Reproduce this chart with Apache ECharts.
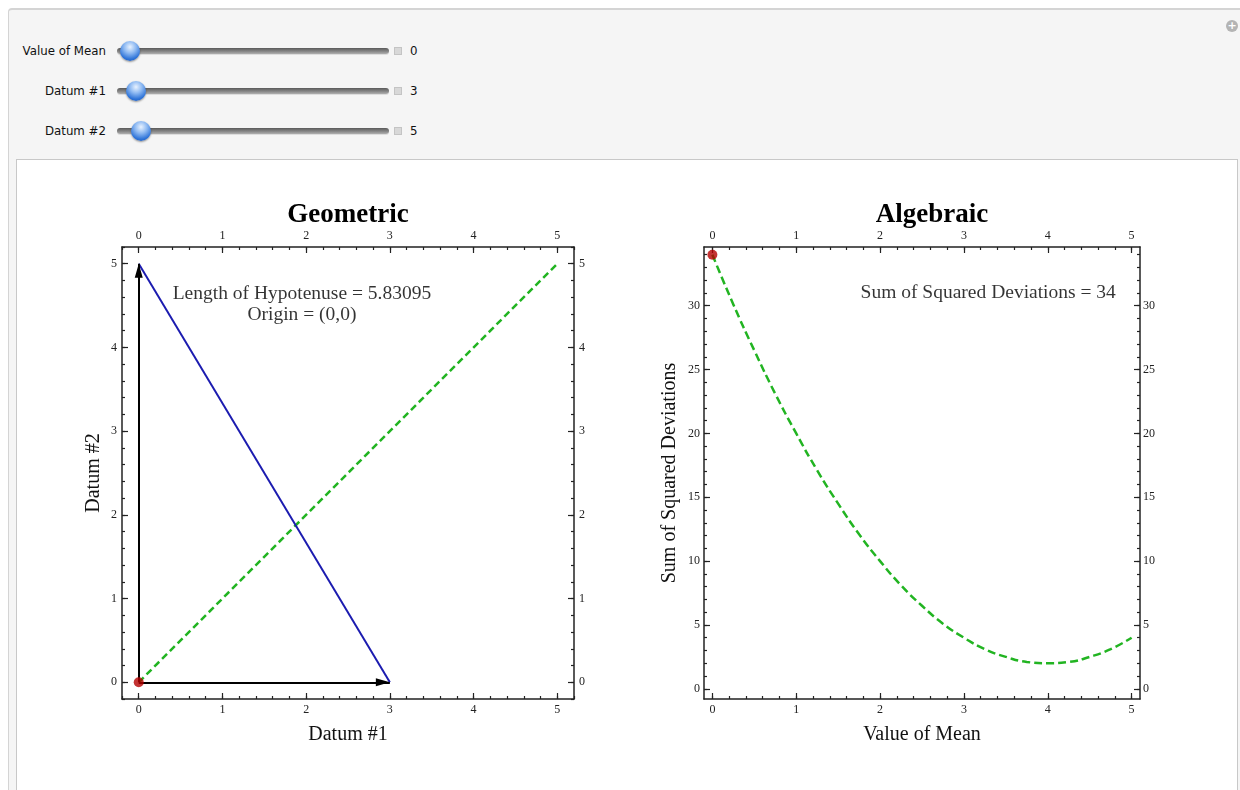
<!DOCTYPE html>
<html>
<head>
<meta charset="utf-8">
<script src="https://cdn.jsdelivr.net/npm/echarts@6/dist/echarts.min.js"></script>
<style>
html,body{margin:0;padding:0;width:1240px;height:790px;background:#fff;overflow:hidden;font-family:"DejaVu Sans",sans-serif;}
#outer{position:absolute;left:8px;top:8px;width:1240px;height:800px;background:#f5f5f5;border-top:2px solid #d4d4d4;border-left:1px solid #d4d4d4;border-top-left-radius:4px;box-sizing:border-box;}
#inner{position:absolute;left:16px;top:159px;width:1222px;height:640px;background:#fff;border:1px solid #c8c8c8;box-sizing:border-box;}
.row{position:absolute;left:0;height:20px;}
.lbl{position:absolute;width:106px;left:0;text-align:right;font-size:11.8px;color:#111;line-height:20px;}
.track{position:absolute;left:117px;top:7px;width:272px;height:6px;border-radius:3px;background:linear-gradient(#5a5a5a,#8a8a8a 60%,#b0b0b0);box-shadow:0 1px 0 #ddd;}
.knob{position:absolute;top:0px;width:20px;height:20px;border-radius:50%;background:radial-gradient(circle at 50% 30%,#e8f2ff 0%,#8fbaf2 35%,#2f74d8 70%,#1b4fa8 100%);box-shadow:0 1px 2px rgba(0,0,0,0.4);}
.plus{position:absolute;left:394px;top:6px;width:8px;height:8px;background:#d8d8d8;border:1px solid #c4c4c4;box-sizing:border-box;}
.val{position:absolute;left:410px;font-size:11.8px;line-height:20px;color:#111;}
#icon{position:absolute;left:1226px;top:20px;width:12px;height:12px;border-radius:50%;background:#b4b4b4;color:#fff;font-size:11px;line-height:12px;text-align:center;font-weight:bold;}
#chart{position:absolute;left:0;top:0;width:1240px;height:790px;}
</style>
</head>
<body>
<div id="outer"></div>
<div id="icon">+</div>
<div class="row" style="top:41px;"><div class="lbl">Value of Mean</div><div class="track"></div><div class="knob" style="left:120px;"></div><div class="plus"></div><div class="val">0</div></div>
<div class="row" style="top:81px;"><div class="lbl">Datum #1</div><div class="track"></div><div class="knob" style="left:126px;"></div><div class="plus"></div><div class="val">3</div></div>
<div class="row" style="top:121px;"><div class="lbl">Datum #2</div><div class="track"></div><div class="knob" style="left:131px;"></div><div class="plus"></div><div class="val">5</div></div>
<div id="inner"></div>
<div id="chart"></div>
<script>
// ---- data ----
var datum1 = 3;
var datum2 = 5;
var meanValue = 0;
var hypotenuseText = "Length of Hypotenuse = 5.83095";
var originText = "Origin = (0,0)";
var ssdText = "Sum of Squared Deviations = 34";
var diagonalLine = [[0, 0], [5, 5]];
var hypotenuseLine = [[0, 5], [3, 0]];
var originPoint = [[0, 0]];
var meanGrid = [0, 0.25, 0.5, 0.75, 1, 1.25, 1.5, 1.75, 2, 2.25, 2.5, 2.75, 3, 3.25, 3.5, 3.75, 4, 4.25, 4.5, 4.75, 5];
var ssdValues = [34, 30.1, 26.5, 23.1, 20, 17.1, 14.5, 12.1, 10, 8.1, 6.5, 5.1, 4, 3.1, 2.5, 2.1, 2, 2.1, 2.5, 3.1, 4];
var ssdPoint = [[0, 34]];
var geoTicks = [0, 1, 2, 3, 4, 5];
var algXTicks = [0, 1, 2, 3, 4, 5];
var algYTicks = [0, 5, 10, 15, 20, 25, 30];

function minorTicks(lo, hi, step) {
  var out = [];
  for (var v = lo; v <= hi + 1e-9; v += step) out.push(Math.round(v * 1000) / 1000);
  return out;
}
var geoMinor = minorTicks(-0.2, 5.2, 0.2);
var algXMinor = minorTicks(0, 5, 0.2);
var algYMinor = minorTicks(0, 34, 1);

var curve = meanGrid.map(function (m, i) { return [m, ssdValues[i]]; });

var SERIF = "Liberation Serif";
var frameColor = "#222";

function makeAxis(kind, grid, pos, min, max, ticks, isMinor, extra) {
  var a = {
    type: 'value', gridIndex: grid, position: pos, min: min, max: max,
    splitLine: { show: false },
    axisLine: { show: !isMinor, onZero: false, lineStyle: { color: frameColor, width: 1.5 } },
    axisTick: { show: true, inside: true, length: isMinor ? 3 : 6, customValues: ticks,
      lineStyle: { color: frameColor, width: 1.2 } },
    axisLabel: isMinor ? { show: false } : { show: true, customValues: ticks, color: '#222',
      fontFamily: SERIF, fontSize: 12, margin: 5 }
  };
  if (extra) for (var k in extra) a[k] = extra[k];
  return a;
}
var nameStyle = { fontFamily: SERIF, fontSize: 20, color: '#111' };

var xAxes = [
  makeAxis('x', 0, 'bottom', -0.2, 5.2, geoTicks, false, { name: 'Datum #1', nameLocation: 'middle', nameGap: 26, nameTextStyle: nameStyle }),
  makeAxis('x', 0, 'bottom', -0.2, 5.2, geoMinor, true),
  makeAxis('x', 0, 'top', -0.2, 5.2, geoTicks, false),
  makeAxis('x', 0, 'top', -0.2, 5.2, geoMinor, true),
  makeAxis('x', 1, 'bottom', -0.1, 5.1, algXTicks, false, { name: 'Value of Mean', nameLocation: 'middle', nameGap: 26, nameTextStyle: nameStyle }),
  makeAxis('x', 1, 'bottom', -0.1, 5.1, algXMinor, true),
  makeAxis('x', 1, 'top', -0.1, 5.1, algXTicks, false),
  makeAxis('x', 1, 'top', -0.1, 5.1, algXMinor, true)
];
var yAxes = [
  makeAxis('y', 0, 'left', -0.2, 5.2, geoTicks, false, { name: 'Datum #2', nameLocation: 'middle', nameGap: 18, nameTextStyle: nameStyle }),
  makeAxis('y', 0, 'left', -0.2, 5.2, geoMinor, true),
  makeAxis('y', 0, 'right', -0.2, 5.2, geoTicks, false),
  makeAxis('y', 0, 'right', -0.2, 5.2, geoMinor, true),
  makeAxis('y', 1, 'left', -0.8, 34.6, algYTicks, false, { name: 'Sum of Squared Deviations', nameLocation: 'middle', nameGap: 24, nameTextStyle: nameStyle }),
  makeAxis('y', 1, 'left', -0.8, 34.6, algYMinor, true),
  makeAxis('y', 1, 'right', -0.8, 34.6, algYTicks, false),
  makeAxis('y', 1, 'right', -0.8, 34.6, algYMinor, true)
];
yAxes[6].axisLabel.margin = 3;
yAxes[4].axisLabel.margin = 4;

var green = '#22b422', blue = '#1c1cb0', red = '#b40000';
// arrowhead whose tip sits at the symbol centre (tiny sub-path extends the box)
var arrowHead = 'path://M0,0L4,14L-4,14ZM0,-14L0.01,-14L0,-13.99Z';

var option = {
  animation: false,
  title: [
    { text: 'Geometric', left: 343, top: 197, textAlign: 'center',
      textStyle: { fontFamily: SERIF, fontWeight: 'bold', fontSize: 27, color: '#000' } },
    { text: 'Algebraic', left: 927, top: 197, textAlign: 'center',
      textStyle: { fontFamily: SERIF, fontWeight: 'bold', fontSize: 27, color: '#000' } }
  ],
  grid: [
    { left: 122, top: 247, width: 452, height: 452 },
    { left: 704, top: 247, width: 436, height: 452 }
  ],
  xAxis: xAxes,
  yAxis: yAxes,
  series: [
    { type: 'line', xAxisIndex: 0, yAxisIndex: 0, data: diagonalLine, symbol: 'none',
      lineStyle: { color: green, width: 2.5, type: [7, 4] }, z: 2 },
    { type: 'line', xAxisIndex: 0, yAxisIndex: 0, data: hypotenuseLine, symbol: 'none',
      lineStyle: { color: blue, width: 2 }, z: 3,
      markLine: { silent: true, symbol: ['none', arrowHead], symbolSize: [8, 28], animation: false,
        label: { show: false },
        lineStyle: { color: '#000', width: 2, type: 'solid' },
        itemStyle: { color: '#000' },
        data: [
          [{ coord: [0, 0] }, { coord: [datum1, 0] }],
          [{ coord: [0, 0] }, { coord: [0, datum2] }]
        ] } },
    { type: 'scatter', xAxisIndex: 0, yAxisIndex: 0, data: originPoint, symbolSize: 10,
      itemStyle: { color: red }, z: 5, silent: true },
    { type: 'scatter', xAxisIndex: 0, yAxisIndex: 0, silent: true, symbolSize: 1,
      itemStyle: { color: 'rgba(0,0,0,0)' },
      data: [
        { value: [1.95, 4.64], label: { formatter: hypotenuseText } },
        { value: [1.95, 4.39], label: { formatter: originText } }
      ],
      label: { show: true, position: 'inside', fontFamily: SERIF, fontSize: 19.5, color: '#000' } },
    { type: 'line', xAxisIndex: 4, yAxisIndex: 4, data: curve, symbol: 'none', smooth: true,
      lineStyle: { color: green, width: 2.5, type: [8, 4] }, z: 2 },
    { type: 'scatter', xAxisIndex: 4, yAxisIndex: 4, data: ssdPoint, symbolSize: 10,
      itemStyle: { color: red }, z: 5, silent: true },
    { type: 'scatter', xAxisIndex: 4, yAxisIndex: 4, silent: true, symbolSize: 1,
      itemStyle: { color: 'rgba(0,0,0,0)' },
      data: [{ value: [3.29, 31.0], label: { formatter: ssdText } }],
      label: { show: true, position: 'inside', fontFamily: SERIF, fontSize: 19.5, color: '#000' } }
  ]
};
var chart = echarts.init(document.getElementById('chart'));
chart.setOption(option);
</script>
</body>
</html>
